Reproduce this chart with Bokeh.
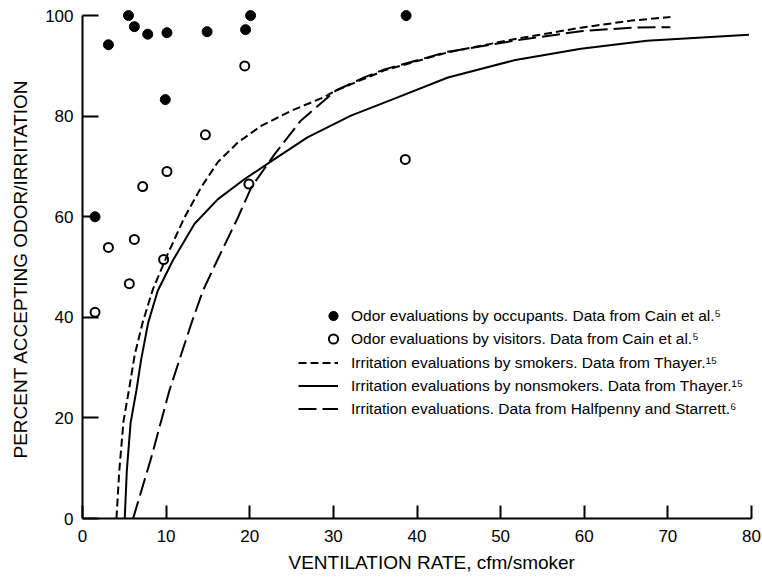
from bokeh.plotting import figure
from bokeh.models import Range1d, Legend, LegendItem, FixedTicker, Title
from bokeh.embed import file_html
from bokeh.resources import INLINE

# ---- data ----
occ_x = [1.5, 3.1, 5.5, 6.2, 7.8, 10.1, 9.9, 14.9, 19.5, 20.1, 38.7]
occ_y = [60.0, 94.2, 100.0, 97.8, 96.3, 96.6, 83.3, 96.8, 97.2, 100.0, 100.0]

vis_x = [1.5, 3.1, 5.6, 6.2, 7.2, 9.7, 10.1, 14.7, 19.4, 19.9, 38.6]
vis_y = [41.0, 53.9, 46.7, 55.5, 66.0, 51.5, 69.0, 76.3, 90.0, 66.5, 71.4]

smk_x = [4.06, 4.4, 4.9, 5.6, 6.25, 7.2, 8.4, 10.2, 12.2, 14.2, 16.2, 18.6, 21.4,
         25.0, 28.9, 30.3, 36.1, 43.7, 51.6, 59.6, 65.6, 70.3]
smk_y = [0.0, 9.5, 19.3, 26.0, 32.6, 39.0, 45.5, 52.6, 59.9, 65.9, 70.9, 74.8, 78.1,
         81.1, 83.8, 85.1, 89.1, 92.7, 95.3, 97.6, 99.0, 99.7]

non_x = [5.05, 5.3, 5.75, 6.45, 7.0, 7.85, 9.0, 10.8, 13.4, 16.2, 19.4, 23.0, 26.9,
         32.1, 37.0, 43.7, 51.6, 59.6, 67.5, 79.7]
non_y = [0.0, 9.5, 19.0, 25.5, 31.5, 38.9, 45.3, 51.3, 58.6, 63.5, 67.5, 71.5, 75.8,
         80.1, 83.3, 87.7, 91.1, 93.4, 95.0, 96.2]

hs_x = [6.05, 8.24, 10.4, 13.0, 14.4, 16.3, 18.6, 20.2, 23.0, 26.1, 30.3, 33.7, 36.1,
        43.7, 51.6, 59.6, 65.6, 70.3]
hs_y = [0.0, 12.2, 25.5, 38.7, 45.3, 52.0, 59.9, 65.9, 72.5, 79.1, 85.1, 87.7, 89.3,
        92.8, 95.0, 96.9, 97.6, 97.7]

x_ticks = [0, 10, 20, 30, 40, 50, 60, 70, 80]
y_ticks = [0, 20, 40, 60, 80, 100]

labels = [
    "Odor evaluations by occupants. Data from Cain et al.\u2075",
    "Odor evaluations by visitors. Data from Cain et al.\u2075",
    "Irritation evaluations by smokers. Data from Thayer.\u00b9\u2075",
    "Irritation evaluations by nonsmokers. Data from Thayer.\u00b9\u2075",
    "Irritation evaluations. Data from Halfpenny and Starrett.\u2076",
]
x_title = "VENTILATION RATE, cfm/smoker"
y_title = "PERCENT ACCEPTING ODOR/IRRITATION"

FONT = "Liberation Sans"

p = figure(width=762, height=583, output_backend="svg", toolbar_location=None,
           x_range=Range1d(0, 80), y_range=Range1d(0, 103),
           min_border_left=81, min_border_right=11, min_border_top=0,
           min_border_bottom=65)
p.outline_line_color = None
p.grid.visible = False
p.background_fill_color = "white"
p.border_fill_color = "white"

p.xaxis.ticker = FixedTicker(ticks=x_ticks)
p.yaxis.ticker = FixedTicker(ticks=y_ticks)
p.xaxis.bounds = (0, 80)
p.yaxis.bounds = (0, 100)
for ax in (p.xaxis[0], p.yaxis[0]):
    ax.axis_line_width = 2
    ax.axis_line_color = "black"
    ax.major_tick_line_width = 2
    ax.major_tick_line_color = "black"
    ax.minor_tick_line_color = None
    ax.major_tick_out = 0
    ax.major_label_text_font = FONT
    ax.major_label_text_font_size = "17px"
    ax.major_label_text_color = "black"
p.xaxis.major_tick_in = 13
p.yaxis.major_tick_in = 16
p.xaxis.major_label_standoff = 11
p.yaxis.major_label_standoff = 9

# axis titles as side titles so they can be offset like the original
p.add_layout(Title(text=x_title, align="left", offset=206, standoff=10,
                   vertical_align="bottom", text_font=FONT, text_font_size="19px",
                   text_font_style="normal", text_color="black"), "below")
p.add_layout(Title(text=y_title, align="left", offset=60, standoff=19,
                   vertical_align="top", text_font=FONT, text_font_size="19px",
                   text_font_style="normal", text_color="black"), "left")

r_occ = p.scatter(occ_x, occ_y, marker="circle", size=10, fill_color="black",
                  line_color="black")
r_vis = p.scatter(vis_x, vis_y, marker="circle", size=9, fill_color="white",
                  line_color="black", line_width=2)
r_smk = p.line(smk_x, smk_y, line_width=2, line_color="black", line_dash="8 4")
r_non = p.line(non_x, non_y, line_width=2, line_color="black")
r_hs = p.line(hs_x, hs_y, line_width=2, line_color="black", line_dash="18 6")

common = dict(padding=0, margin=0, border_line_color=None, background_fill_alpha=0,
              label_text_font=FONT, label_text_font_size="15.5px",
              label_text_color="black", glyph_height=23, label_height=20, spacing=0)

leg1 = Legend(items=[LegendItem(label=labels[0], renderers=[r_occ]),
                     LegendItem(label=labels[1], renderers=[r_vis])],
              location=(239, 168), glyph_width=24, label_standoff=6, **common)
leg2 = Legend(items=[LegendItem(label=labels[2], renderers=[r_smk]),
                     LegendItem(label=labels[3], renderers=[r_non]),
                     LegendItem(label=labels[4], renderers=[r_hs])],
              location=(216, 98), glyph_width=40, label_standoff=13, **common)
p.add_layout(leg1)
p.add_layout(leg2)

open("out.html", "w").write(file_html(p, INLINE))
